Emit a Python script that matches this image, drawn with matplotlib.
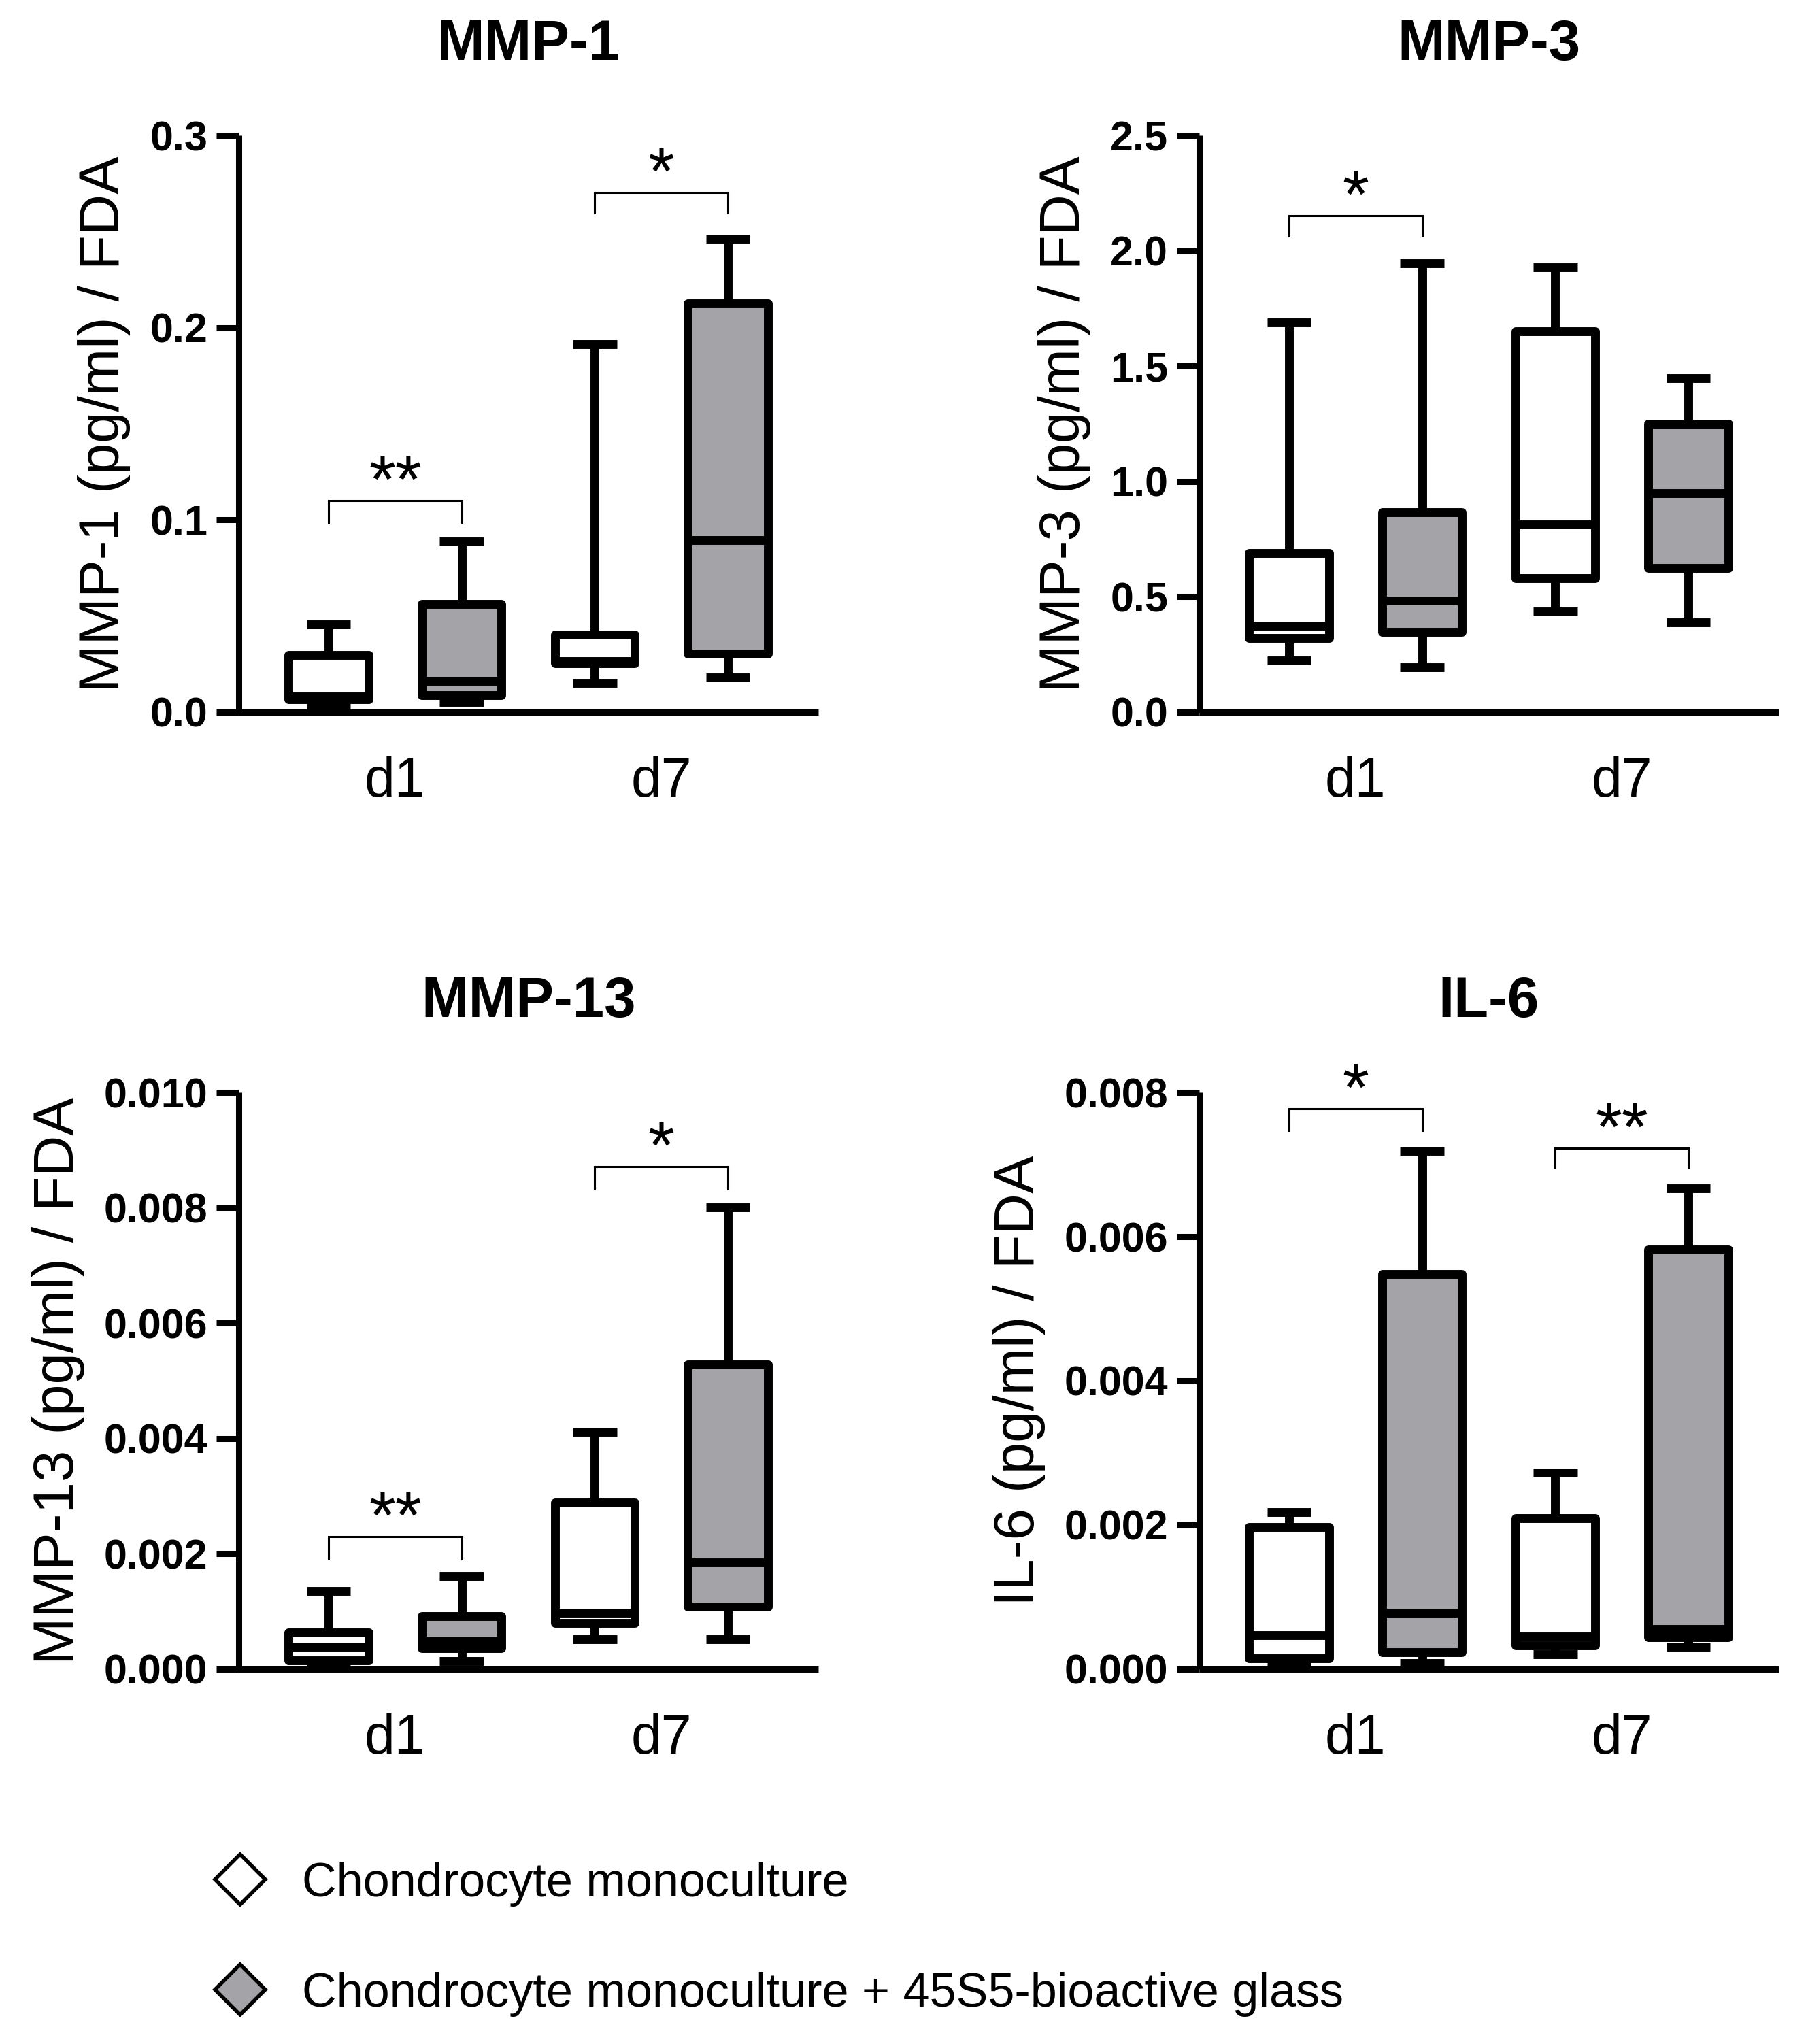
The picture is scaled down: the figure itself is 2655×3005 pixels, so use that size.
import matplotlib
matplotlib.use('Agg')
import matplotlib.pyplot as plt
from matplotlib.lines import Line2D

plt.rcParams['font.family'] = ['Liberation Sans', 'DejaVu Sans']

# ---------------- data ----------------
categories = ['d1', 'd7']
groups = ['Chondrocyte monoculture', 'Chondrocyte monoculture + 45S5-bioactive glass']
group_colors = ['#ffffff', '#a3a3a8']

titles = ['MMP-1', 'MMP-3', 'MMP-13', 'IL-6']
ylabels = ['MMP-1 (pg/ml) / FDA', 'MMP-3 (pg/ml) / FDA',
           'MMP-13 (pg/ml) / FDA', 'IL-6 (pg/ml) / FDA']

# box order in each panel: d1 mono, d1 +BG, d7 mono, d7 +BG
mmp1_min = [0.0032, 0.0053, 0.0152, 0.0180]
mmp1_q1 = [0.0067, 0.0090, 0.0256, 0.0305]
mmp1_med = [0.0081, 0.0164, 0.0265, 0.0894]
mmp1_q3 = [0.0296, 0.0564, 0.0404, 0.2127]
mmp1_max = [0.0458, 0.0888, 0.1914, 0.2464]

mmp3_min = [0.223, 0.194, 0.436, 0.389]
mmp3_q1 = [0.322, 0.349, 0.580, 0.625]
mmp3_med = [0.374, 0.484, 0.814, 0.949]
mmp3_q3 = [0.691, 0.866, 1.650, 1.249]
mmp3_max = [1.690, 1.946, 1.928, 1.447]

mmp13_min = [0.00006, 0.000143, 0.000516, 0.000516]
mmp13_q1 = [0.00015, 0.00036, 0.00080, 0.00109]
mmp13_med = [0.000394, 0.00050, 0.00098, 0.001855]
mmp13_q3 = [0.000637, 0.000923, 0.00289, 0.00528]
mmp13_max = [0.001353, 0.00161, 0.00411, 0.00801]

il6_min = [0.00007, 0.000086, 0.000206, 0.00031]
il6_q1 = [0.000155, 0.00024, 0.000326, 0.00044]
il6_med = [0.00047, 0.000785, 0.00045, 0.000555]
il6_q3 = [0.00197, 0.00548, 0.00209, 0.00582]
il6_max = [0.002176, 0.00719, 0.00273, 0.00667]

# y ticks
mmp1_ticks = [0.0, 0.1, 0.2, 0.3]
mmp1_ticklabels = ['0.0', '0.1', '0.2', '0.3']
mmp3_ticks = [0.0, 0.5, 1.0, 1.5, 2.0, 2.5]
mmp3_ticklabels = ['0.0', '0.5', '1.0', '1.5', '2.0', '2.5']
mmp13_ticks = [0.0, 0.002, 0.004, 0.006, 0.008, 0.010]
mmp13_ticklabels = ['0.000', '0.002', '0.004', '0.006', '0.008', '0.010']
il6_ticks = [0.0, 0.002, 0.004, 0.006, 0.008]
il6_ticklabels = ['0.000', '0.002', '0.004', '0.006', '0.008']

# significance: (category index, stars, bracket top, bracket leg end)
mmp1_sig = [(0, '**', 0.110, 0.0987), (1, '*', 0.2704, 0.2596)]
mmp3_sig = [(0, '*', 2.153, 2.063)]
mmp13_sig = [(0, '**', 0.002305, 0.00191), (1, '*', 0.00871, 0.00833)]
il6_sig = [(0, '*', 0.00777, 0.00747), (1, '**', 0.00723, 0.00696)]

panels = [
    (mmp1_min, mmp1_q1, mmp1_med, mmp1_q3, mmp1_max, mmp1_ticks, mmp1_ticklabels, mmp1_sig),
    (mmp3_min, mmp3_q1, mmp3_med, mmp3_q3, mmp3_max, mmp3_ticks, mmp3_ticklabels, mmp3_sig),
    (mmp13_min, mmp13_q1, mmp13_med, mmp13_q3, mmp13_max, mmp13_ticks, mmp13_ticklabels, mmp13_sig),
    (il6_min, il6_q1, il6_med, il6_q3, il6_max, il6_ticks, il6_ticklabels, il6_sig),
]

# ---------------- figure ----------------
W, H = 2655, 3005
fig = plt.figure(figsize=(W / 100, H / 100), dpi=100)

col_left = [351 / W, 1763 / W]
ax_w = 852 / W
row_bottom = [1 - 1047 / H, 1 - 2454 / H]
ax_h = 848 / H

LW = 9.3
positions = [0, 1, 2, 3]

for i, (mn, q1, md, q3, mx, ticks, ticklabels, sig) in enumerate(panels):
    r, c = divmod(i, 2)
    ax = fig.add_axes([col_left[c], row_bottom[r], ax_w, ax_h])
    stats = [dict(whislo=mn[k], q1=q1[k], med=md[k], q3=q3[k], whishi=mx[k], fliers=[])
             for k in range(4)]
    bp = ax.bxp(stats, positions=positions, widths=0.6, capwidths=0.33,
                patch_artist=True, showfliers=False,
                boxprops=dict(linewidth=LW, edgecolor='black', joinstyle='round'),
                medianprops=dict(color='black', linewidth=LW, solid_capstyle='butt'),
                whiskerprops=dict(color='black', linewidth=LW, solid_capstyle='butt'),
                capprops=dict(color='black', linewidth=LW, solid_capstyle='butt'))
    for k, patch in enumerate(bp['boxes']):
        patch.set_facecolor(group_colors[k % 2])

    ax.set_xlim(-0.675, 3.68)
    ax.set_ylim(ticks[0], ticks[-1])
    ax.set_yticks(ticks)
    ax.set_yticklabels(ticklabels, fontweight='bold')
    ax.set_xticks([0.5, 2.5])
    ax.set_xticklabels(categories)

    for s in ['top', 'right']:
        ax.spines[s].set_visible(False)
    for s in ['left', 'bottom']:
        ax.spines[s].set_linewidth(6.5)
        ax.spines[s].set_capstyle('butt')
    ax.tick_params(axis='y', length=24, width=6.5, pad=9, labelsize=44)
    ax.tick_params(axis='x', length=0, pad=47, labelsize=58)
    ax.set_ylabel(ylabels[i], fontsize=60, labelpad=20)
    ax.set_title(titles[i], fontsize=60, fontweight='bold', pad=80)

    for (ci, stars, ytop, yleg) in sig:
        x0, x1 = positions[2 * ci], positions[2 * ci + 1]
        ax.plot([x0, x0, x1, x1], [yleg, ytop, ytop, yleg], color='black',
                lw=2.2, clip_on=False, solid_joinstyle='miter')
        ax.annotate(stars, xy=((x0 + x1) / 2, ytop), xytext=(0, -2),
                    textcoords='offset points', ha='center', va='baseline',
                    fontsize=72, annotation_clip=False)

handles = [Line2D([], [], marker='D', ls='none', markersize=38,
                  markerfacecolor=group_colors[k], markeredgecolor='black',
                  markeredgewidth=4) for k in range(2)]
fig.legend(handles, groups, loc='center left', bbox_to_anchor=(318 / W, 1 - 2851 / H),
           frameon=False, fontsize=50.5, handlelength=1.0, handletextpad=0.8,
           borderpad=0, borderaxespad=0, labelspacing=1.37)

fig.savefig('out.png', dpi=100, facecolor='white')
